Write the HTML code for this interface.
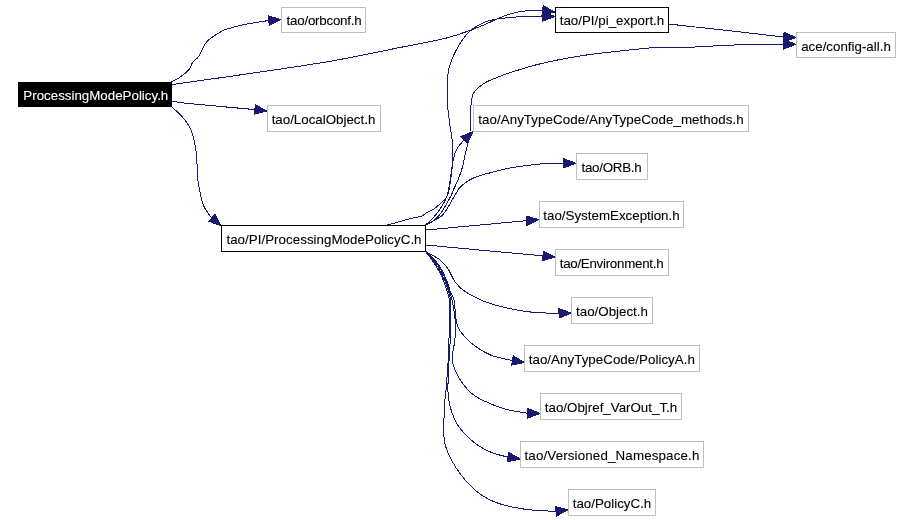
<!DOCTYPE html><html><head><meta charset="utf-8"><title>Include dependency graph</title><style>
html,body{margin:0;padding:0;background:#fff}
body{width:912px;height:520px;position:relative;overflow:hidden;font-family:"Liberation Sans",sans-serif;font-size:13.33px;color:#000}
.n{position:absolute;box-sizing:border-box;will-change:transform;text-align:center;white-space:nowrap;background:#fff}
.grey{border:1px solid #bfbfbf}.black{border:1px solid #000}.root{background:#000;color:#fff}
.n span{position:relative;display:inline-block;top:1px;-webkit-text-stroke:0.1px currentColor}
svg{position:absolute;left:0;top:0}
svg{shape-rendering:crispEdges}svg path{fill:none;stroke:#191970;stroke-width:1}svg polygon{fill:#191970;stroke:none}
</style></head><body>
<svg width="912" height="520" viewBox="0 0 912 520">
<path d="M171.50,81.60 C172.82,80.95 176.40,79.80 179.40,77.70 C182.40,75.60 187.30,71.52 189.50,69.00 C191.70,66.48 191.03,64.75 192.60,62.60 C194.17,60.45 196.53,59.58 198.90,56.10 C201.27,52.62 203.08,45.78 206.80,41.70 C210.52,37.62 217.60,33.77 221.20,31.60 C224.80,29.43 224.43,29.90 228.40,28.70 C232.37,27.50 238.34,25.75 245.00,24.40 C251.66,23.05 264.45,21.21 268.34,20.57"/>
<polygon points="282.60,19.50 268.74,25.96 267.93,15.19"/>
<path d="M172.00,84.50 C185.00,82.67 223.67,77.37 250.00,73.50 C276.33,69.63 305.00,65.63 330.00,61.30 C355.00,56.97 380.70,51.35 400.00,47.50 C419.30,43.65 432.90,41.52 445.80,38.20 C458.70,34.88 468.63,30.90 477.40,27.60 C486.17,24.30 492.97,20.67 498.40,18.40 C503.83,16.13 506.07,15.18 510.00,14.00 C513.93,12.82 516.65,11.92 522.00,11.30 C527.35,10.68 538.76,10.45 542.11,10.28"/>
<polygon points="556.29,12.17 541.40,15.63 542.83,4.93"/>
<path d="M172.00,101.30 C175.00,101.68 176.27,102.23 190.00,103.60 C203.73,104.97 243.65,108.55 254.38,109.54"/>
<polygon points="268.59,111.15 253.78,114.91 254.99,104.18"/>
<path d="M172.00,107.00 C173.17,108.08 176.83,111.33 179.00,113.50 C181.17,115.67 183.25,117.75 185.00,120.00 C186.75,122.25 188.25,124.67 189.50,127.00 C190.75,129.33 191.58,131.00 192.50,134.00 C193.42,137.00 194.30,141.17 195.00,145.00 C195.70,148.83 196.28,151.83 196.70,157.00 C197.12,162.17 197.05,170.62 197.50,176.00 C197.95,181.38 198.40,184.38 199.40,189.30 C200.40,194.22 201.65,200.97 203.50,205.50 C205.35,210.03 209.16,214.51 210.50,216.50 C211.84,218.49 211.37,217.26 211.54,217.41"/>
<polygon points="222.28,226.86 207.97,221.47 215.11,213.36"/>
<path d="M669.00,24.00 C671.50,24.29 673.17,24.54 684.00,25.75 C694.83,26.96 717.45,29.37 734.00,31.25 C750.55,33.13 775.09,36.05 783.31,37.01"/>
<polygon points="797.60,37.66 783.07,42.41 783.56,31.62"/>
<path d="M385.40,225.30 C387.40,224.80 393.57,223.33 397.40,222.30 C401.23,221.27 404.38,220.13 408.40,219.10 C412.42,218.07 418.40,217.20 421.50,216.10 C424.60,215.00 424.98,213.65 427.00,212.50 C429.02,211.35 431.58,210.48 433.60,209.20 C435.62,207.92 437.08,206.63 439.10,204.80 C441.12,202.97 444.23,199.93 445.70,198.20 C447.17,196.47 447.32,195.93 447.90,194.40 C448.48,192.87 448.77,191.23 449.20,189.00 C449.63,186.77 449.98,184.95 450.50,181.00 C451.02,177.05 451.93,171.27 452.30,165.30 C452.67,159.33 453.10,151.92 452.70,145.20 C452.30,138.48 450.82,132.53 449.90,125.00 C448.98,117.47 447.45,109.00 447.20,100.00 C446.95,91.00 446.88,79.33 448.40,71.00 C449.92,62.67 452.78,56.57 456.30,50.00 C459.82,43.43 464.23,36.43 469.50,31.60 C474.77,26.77 480.45,23.42 487.90,21.00 C495.35,18.58 505.18,17.83 514.20,17.10 C523.22,16.37 537.37,16.68 542.00,16.60"/>
<polygon points="556.30,16.49 542.04,22.00 541.96,11.20"/>
<path d="M425.50,225.00 C426.85,224.28 431.15,222.52 433.60,220.70 C436.05,218.88 438.18,216.65 440.20,214.10 C442.22,211.55 443.88,208.50 445.70,205.40 C447.52,202.30 449.72,198.32 451.10,195.50 C452.48,192.68 452.97,190.83 454.00,188.50 C455.03,186.17 455.90,185.02 457.30,181.50 C458.70,177.98 461.05,172.12 462.40,167.40 C463.75,162.68 464.40,157.58 465.40,153.20 C466.40,148.82 467.57,145.30 468.40,141.10 C469.23,136.90 469.97,134.02 470.40,128.00 C470.83,121.98 470.68,110.17 471.00,105.00 C471.32,99.83 471.93,98.90 472.30,97.00 C472.67,95.10 472.50,94.85 473.20,93.60 C473.90,92.35 474.45,91.35 476.50,89.50 C478.55,87.65 482.08,84.50 485.50,82.50 C488.92,80.50 492.83,79.17 497.00,77.50 C501.17,75.83 503.25,74.79 510.50,72.50 C517.75,70.21 529.25,66.46 540.50,63.75 C551.75,61.04 565.08,58.33 578.00,56.25 C590.92,54.17 605.00,52.71 618.00,51.25 C631.00,49.79 645.00,48.12 656.00,47.50 C667.00,46.88 671.00,47.92 684.00,47.50 C697.00,47.08 717.45,45.53 734.00,45.00 C750.55,44.47 775.08,44.42 783.30,44.30"/>
<polygon points="797.60,44.30 783.30,49.70 783.30,38.90"/>
<path d="M425.50,225.00 C426.48,224.10 429.32,221.78 431.40,219.60 C433.48,217.42 436.17,214.27 438.00,211.90 C439.83,209.53 440.93,207.95 442.40,205.40 C443.87,202.85 445.77,199.33 446.80,196.60 C447.83,193.87 447.98,192.10 448.60,189.00 C449.22,185.90 449.72,182.95 450.50,178.00 C451.28,173.05 452.17,164.27 453.30,159.30 C454.43,154.33 455.57,151.36 457.30,148.20 C459.03,145.04 462.61,141.65 463.68,140.34"/>
<polygon points="474.26,130.73 467.31,144.34 460.05,136.34"/>
<path d="M425.50,225.00 C427.22,224.10 432.98,221.23 435.80,219.60 C438.62,217.97 440.38,217.22 442.40,215.20 C444.42,213.18 446.27,210.05 447.90,207.50 C449.53,204.95 450.93,202.08 452.20,199.90 C453.47,197.72 454.15,196.55 455.50,194.40 C456.85,192.25 457.82,189.48 460.30,187.00 C462.78,184.52 467.03,181.43 470.40,179.50 C473.77,177.57 477.30,176.48 480.50,175.40 C483.70,174.32 484.68,174.23 489.60,173.00 C494.52,171.77 501.60,169.50 510.00,168.00 C518.40,166.50 531.17,164.78 540.00,164.00 C548.83,163.22 559.17,163.42 563.00,163.30"/>
<polygon points="577.30,163.30 563.00,168.70 563.00,157.90"/>
<path d="M426.00,230.00 C435.00,229.17 463.32,226.55 480.00,225.00 C496.68,223.45 518.38,221.42 526.06,220.71"/>
<polygon points="540.29,219.38 526.56,226.08 525.55,215.33"/>
<path d="M426.00,245.00 C436.67,246.00 470.57,249.20 490.00,251.00 C509.43,252.80 533.80,255.01 542.55,255.81"/>
<polygon points="556.79,257.12 542.06,261.19 543.05,250.44"/>
<path d="M425.50,251.50 C427.95,252.92 436.42,257.05 440.20,260.00 C443.98,262.95 445.68,265.48 448.20,269.20 C450.72,272.92 452.27,278.43 455.30,282.30 C458.33,286.17 460.62,288.87 466.40,292.40 C472.18,295.93 480.17,300.33 490.00,303.50 C499.83,306.67 514.23,309.73 525.40,311.40 C536.57,313.07 551.48,313.16 557.00,313.50 C562.52,313.84 558.26,313.46 558.51,313.45"/>
<polygon points="572.80,312.96 558.69,318.84 558.32,308.05"/>
<path d="M425.50,251.50 C426.60,252.43 429.65,254.48 432.10,257.10 C434.55,259.72 437.85,263.50 440.20,267.20 C442.55,270.90 444.52,275.27 446.20,279.30 C447.88,283.33 449.00,287.95 450.30,291.40 C451.60,294.85 453.05,295.37 454.00,300.00 C454.95,304.63 455.20,314.40 456.00,319.20 C456.80,324.00 457.05,325.58 458.80,328.80 C460.55,332.02 463.77,335.60 466.50,338.50 C469.23,341.40 471.28,343.48 475.20,346.20 C479.12,348.92 485.37,352.75 490.00,354.80 C494.63,356.85 499.35,357.57 503.00,358.50 C506.65,359.43 510.41,360.07 511.89,360.38"/>
<polygon points="525.98,362.82 510.97,365.70 512.81,355.06"/>
<path d="M425.50,251.50 C426.58,252.50 429.67,254.83 432.00,257.50 C434.33,260.17 437.25,263.83 439.50,267.50 C441.75,271.17 443.83,275.50 445.50,279.50 C447.17,283.50 448.42,288.08 449.50,291.50 C450.58,294.92 451.08,295.42 452.00,300.00 C452.92,304.58 454.50,312.58 455.00,319.00 C455.50,325.42 455.48,332.05 455.00,338.50 C454.52,344.95 452.27,352.90 452.10,357.70 C451.93,362.50 452.55,363.45 454.00,367.30 C455.45,371.15 458.07,376.63 460.80,380.80 C463.53,384.97 466.87,389.10 470.40,392.30 C473.93,395.50 476.20,397.22 482.00,400.00 C487.80,402.78 497.63,406.78 505.20,409.00 C512.77,411.22 523.70,412.59 527.40,413.31"/>
<polygon points="541.70,413.52 527.32,418.71 527.48,407.91"/>
<path d="M425.50,251.50 C426.50,252.58 429.33,255.25 431.50,258.00 C433.67,260.75 436.33,264.33 438.50,268.00 C440.67,271.67 442.83,276.00 444.50,280.00 C446.17,284.00 447.55,288.67 448.50,292.00 C449.45,295.33 449.92,292.25 450.20,300.00 C450.48,307.75 450.37,328.88 450.20,338.50 C450.03,348.12 449.52,351.28 449.20,357.70 C448.88,364.12 448.50,371.28 448.30,377.00 C448.10,382.72 447.65,386.92 448.00,392.00 C448.35,397.08 448.80,402.03 450.40,407.50 C452.00,412.97 453.75,419.05 457.60,424.80 C461.45,430.55 467.97,437.43 473.50,442.00 C479.03,446.57 485.11,449.70 490.80,452.20 C496.49,454.70 504.84,456.22 507.65,457.02"/>
<polygon points="521.78,459.20 506.83,462.36 508.47,451.69"/>
<path d="M425.50,251.50 C426.42,252.67 429.00,255.67 431.00,258.50 C433.00,261.33 435.42,264.83 437.50,268.50 C439.58,272.17 441.83,276.50 443.50,280.50 C445.17,284.50 446.55,289.25 447.50,292.50 C448.45,295.75 448.92,293.75 449.20,300.00 C449.48,306.25 449.35,320.38 449.20,330.00 C449.05,339.62 448.78,348.28 448.30,357.70 C447.82,367.12 446.93,378.20 446.30,386.50 C445.67,394.80 444.78,398.25 444.50,407.50 C444.22,416.75 442.65,431.92 444.60,442.00 C446.55,452.08 450.92,459.83 456.20,468.00 C461.48,476.17 469.58,485.22 476.30,491.00 C483.02,496.78 488.32,499.65 496.50,502.70 C504.68,505.75 515.55,507.86 525.40,509.30 C535.25,510.74 550.56,511.01 555.59,511.35"/>
<polygon points="569.79,509.64 556.24,516.71 554.95,505.99"/>
</svg>
<div class="n root" style="left:18px;top:82px;width:154px;height:25px;line-height:25px"><span style="left:0.8px;top:1.0px;letter-spacing:0.000px">ProcessingModePolicy.h</span></div>
<div class="n grey" style="left:281px;top:7px;width:85px;height:26px;line-height:24px"><span style="left:0.5px;top:1.0px;letter-spacing:-0.230px">tao/orbconf.h</span></div>
<div class="n black" style="left:555px;top:7px;width:114px;height:26px;line-height:24px"><span style="left:0.0px;top:1.0px;letter-spacing:0.000px">tao/PI/pi_export.h</span></div>
<div class="n grey" style="left:796px;top:32px;width:100px;height:26px;line-height:24px"><span style="left:0.0px;top:2.0px;letter-spacing:0.000px">ace/config-all.h</span></div>
<div class="n grey" style="left:267px;top:105px;width:114px;height:27px;line-height:25px"><span style="left:-0.5px;top:1.0px;letter-spacing:0.000px">tao/LocalObject.h</span></div>
<div class="n grey" style="left:473px;top:105px;width:276px;height:27px;line-height:25px"><span style="left:0.0px;top:1.0px;letter-spacing:0.070px">tao/AnyTypeCode/AnyTypeCode_methods.h</span></div>
<div class="n grey" style="left:576px;top:153px;width:72px;height:27px;line-height:25px"><span style="left:-0.5px;top:1.0px;letter-spacing:-0.250px">tao/ORB.h</span></div>
<div class="n grey" style="left:539px;top:201px;width:145px;height:27px;line-height:25px"><span style="left:0.0px;top:1.0px;letter-spacing:0.000px">tao/SystemException.h</span></div>
<div class="n black" style="left:221px;top:225px;width:205px;height:27px;line-height:25px"><span style="left:0.5px;top:1.0px;letter-spacing:0.035px">tao/PI/ProcessingModePolicyC.h</span></div>
<div class="n grey" style="left:555px;top:249px;width:114px;height:27px;line-height:25px"><span style="left:-0.5px;top:1.0px;letter-spacing:-0.270px">tao/Environment.h</span></div>
<div class="n grey" style="left:571px;top:297px;width:82px;height:27px;line-height:25px"><span style="left:0.0px;top:1.0px;letter-spacing:0.000px">tao/Object.h</span></div>
<div class="n grey" style="left:524px;top:345px;width:176px;height:27px;line-height:25px"><span style="left:-0.2px;top:1.0px;letter-spacing:0.040px">tao/AnyTypeCode/PolicyA.h</span></div>
<div class="n grey" style="left:540px;top:393px;width:142px;height:27px;line-height:25px"><span style="left:0.0px;top:1.0px;letter-spacing:0.000px">tao/Objref_VarOut_T.h</span></div>
<div class="n grey" style="left:520px;top:441px;width:184px;height:27px;line-height:25px"><span style="left:0.0px;top:1.0px;letter-spacing:0.155px">tao/Versioned_Namespace.h</span></div>
<div class="n grey" style="left:568px;top:489px;width:88px;height:27px;line-height:25px"><span style="left:0.0px;top:1.0px;letter-spacing:0.000px">tao/PolicyC.h</span></div>
</body></html>
